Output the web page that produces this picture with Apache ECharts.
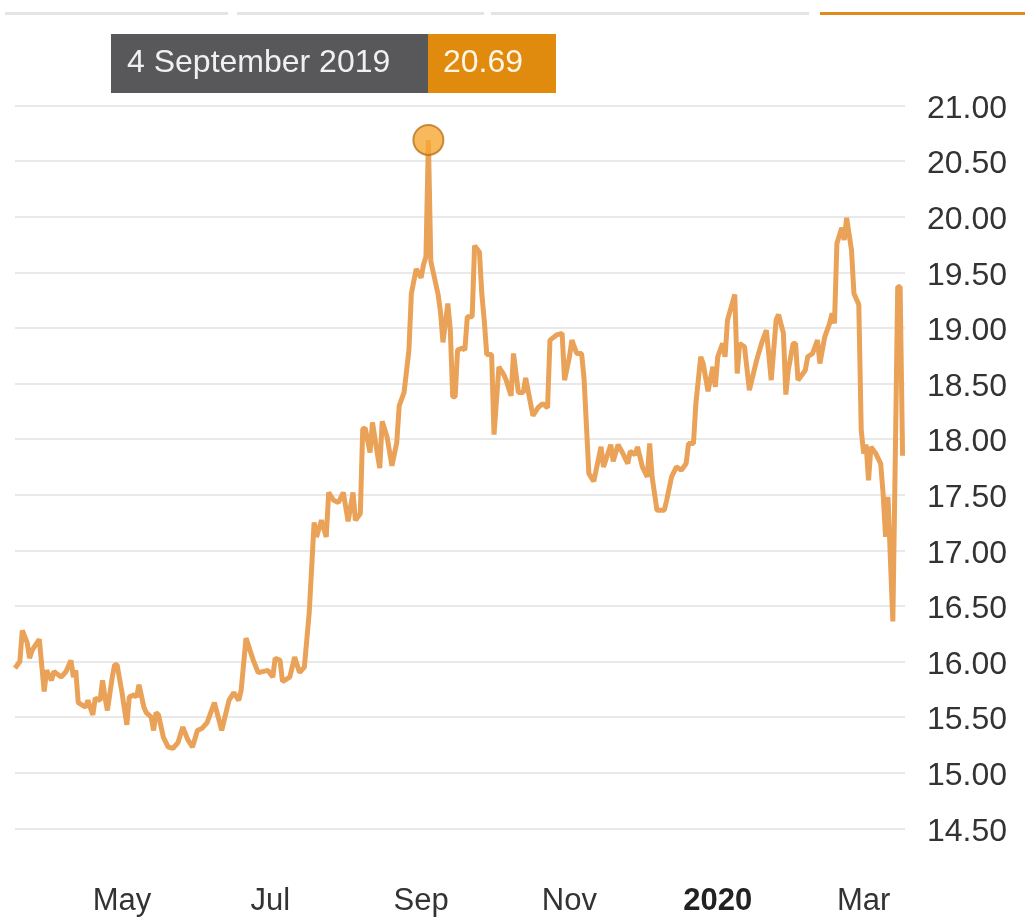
<!DOCTYPE html>
<html>
<head>
<meta charset="utf-8">
<title>Price history</title>
<script src="https://cdn.jsdelivr.net/npm/echarts@6/dist/echarts.min.js"></script>
<style>
  html, body { margin: 0; padding: 0; background: #ffffff; }
  #chart { width: 1025px; height: 917px; }
</style>
</head>
<body>
<div id="chart"></div>
<script>
// Daily closing values, one year of history
const dates = [
  '2019-03-18','2019-03-20','2019-03-21','2019-03-23','2019-03-24','2019-03-25','2019-03-28','2019-03-30','2019-03-31',
  '2019-04-02','2019-04-03','2019-04-06','2019-04-08','2019-04-10','2019-04-11','2019-04-12','2019-04-13','2019-04-16',
  '2019-04-17','2019-04-19','2019-04-20','2019-04-22','2019-04-23','2019-04-24','2019-04-25','2019-04-27','2019-04-28',
  '2019-04-29','2019-05-01','2019-05-03','2019-05-04','2019-05-06','2019-05-07','2019-05-08','2019-05-10','2019-05-11',
  '2019-05-13','2019-05-14','2019-05-15','2019-05-16','2019-05-18','2019-05-20','2019-05-22','2019-05-24','2019-05-26',
  '2019-05-28','2019-05-30','2019-06-01','2019-06-03','2019-06-05','2019-06-08','2019-06-11','2019-06-14','2019-06-16',
  '2019-06-18','2019-06-19','2019-06-21','2019-06-24','2019-06-26','2019-06-30','2019-07-02','2019-07-03','2019-07-05',
  '2019-07-06','2019-07-09','2019-07-11','2019-07-13','2019-07-15','2019-07-17','2019-07-19','2019-07-20','2019-07-22',
  '2019-07-24','2019-07-25','2019-07-27','2019-07-29','2019-07-31','2019-08-02','2019-08-04','2019-08-05','2019-08-07',
  '2019-08-08','2019-08-09','2019-08-11','2019-08-12','2019-08-14','2019-08-15','2019-08-16','2019-08-18','2019-08-20',
  '2019-08-22','2019-08-23','2019-08-25','2019-08-27','2019-08-28','2019-08-30','2019-09-01','2019-09-02','2019-09-03',
  '2019-09-04','2019-09-05','2019-09-08','2019-09-09','2019-09-10','2019-09-12','2019-09-13','2019-09-14','2019-09-15',
  '2019-09-16','2019-09-18','2019-09-19','2019-09-20','2019-09-22','2019-09-23','2019-09-25','2019-09-26','2019-09-27',
  '2019-09-28','2019-09-30','2019-10-01','2019-10-03','2019-10-05','2019-10-06','2019-10-08','2019-10-09','2019-10-11',
  '2019-10-13','2019-10-14','2019-10-17','2019-10-19','2019-10-21','2019-10-23','2019-10-24','2019-10-27','2019-10-29',
  '2019-10-30','2019-11-01','2019-11-02','2019-11-04','2019-11-06','2019-11-07','2019-11-09','2019-11-11','2019-11-14',
  '2019-11-15','2019-11-18','2019-11-19','2019-11-21','2019-11-23','2019-11-25','2019-11-26','2019-11-28','2019-11-29',
  '2019-12-01','2019-12-03','2019-12-04','2019-12-05','2019-12-07','2019-12-10','2019-12-11','2019-12-13','2019-12-15',
  '2019-12-17','2019-12-19','2019-12-20','2019-12-22','2019-12-23','2019-12-25','2019-12-26','2019-12-28','2019-12-30',
  '2019-12-31','2020-01-01','2020-01-03','2020-01-04','2020-01-05','2020-01-08','2020-01-09','2020-01-10','2020-01-12',
  '2020-01-14','2020-01-17','2020-01-19','2020-01-21','2020-01-23','2020-01-25','2020-01-26','2020-01-28','2020-01-29',
  '2020-01-30','2020-02-01','2020-02-02','2020-02-03','2020-02-06','2020-02-07','2020-02-09','2020-02-11','2020-02-12',
  '2020-02-14','2020-02-16','2020-02-17','2020-02-18','2020-02-19','2020-02-21','2020-02-22','2020-02-23','2020-02-25',
  '2020-02-26','2020-02-28','2020-02-29','2020-03-01','2020-03-02','2020-03-03','2020-03-04','2020-03-06','2020-03-08',
  '2020-03-09','2020-03-10','2020-03-11','2020-03-13','2020-03-14','2020-03-15','2020-03-16','2020-03-17'
];

const values = [
  15.94, 16.00, 16.28, 16.17, 16.03, 16.10, 16.20, 15.73, 15.92,
  15.83, 15.91, 15.86, 15.91, 16.01, 15.86, 15.92, 15.63, 15.59,
  15.65, 15.52, 15.67, 15.65, 15.83, 15.68, 15.56, 15.86, 15.97,
  15.97, 15.72, 15.43, 15.68, 15.70, 15.68, 15.79, 15.59, 15.54,
  15.50, 15.38, 15.54, 15.52, 15.32, 15.23, 15.22, 15.27, 15.41,
  15.30, 15.23, 15.38, 15.40, 15.45, 15.63, 15.38, 15.65, 15.72,
  15.65, 15.74, 16.21, 16.01, 15.90, 15.92, 15.86, 16.03, 16.01,
  15.82, 15.86, 16.04, 15.90, 15.95, 16.44, 17.25, 17.12, 17.27,
  17.12, 17.52, 17.45, 17.43, 17.52, 17.26, 17.52, 17.27, 17.33,
  18.09, 18.10, 17.88, 18.15, 17.87, 17.74, 18.16, 18.02, 17.76,
  17.97, 18.30, 18.42, 18.80, 19.31, 19.53, 19.45, 19.57, 19.64,
  20.69, 19.60, 19.30, 19.14, 18.87, 19.22, 18.99, 18.38, 18.38,
  18.80, 18.82, 18.80, 19.10, 19.10, 19.74, 19.68, 19.30, 19.06,
  18.76, 18.76, 18.04, 18.65, 18.58, 18.53, 18.39, 18.77, 18.42,
  18.42, 18.55, 18.21, 18.28, 18.32, 18.28, 18.89, 18.94, 18.95,
  18.53, 18.74, 18.89, 18.77, 18.77, 18.55, 17.69, 17.62, 17.93,
  17.75, 17.95, 17.80, 17.95, 17.87, 17.78, 17.89, 17.86, 17.93,
  17.75, 17.66, 17.96, 17.66, 17.36, 17.36, 17.45, 17.66, 17.75,
  17.72, 17.78, 17.96, 17.96, 18.32, 18.74, 18.68, 18.43, 18.65,
  18.47, 18.74, 18.86, 18.74, 19.07, 19.30, 18.59, 18.86, 18.83,
  18.44, 18.71, 18.86, 18.98, 18.53, 19.07, 19.12, 18.95, 18.40,
  18.62, 18.86, 18.86, 18.53, 18.62, 18.74, 18.77, 18.89, 18.68,
  18.92, 19.04, 19.13, 19.04, 19.76, 19.90, 19.79, 19.99, 19.70,
  19.31, 19.21, 18.08, 17.87, 17.95, 17.63, 17.93, 17.87, 17.78,
  17.51, 17.12, 17.48, 16.36, 17.82, 19.37, 19.37, 17.85
];

// Axis ticks
const xTickDates = ['2019-05-01', '2019-07-01', '2019-09-01', '2019-11-01', '2020-01-01', '2020-03-01'];
const xTickLabels = ['May', 'Jul', 'Sep', 'Nov', '2020', 'Mar'];
const xRange = ['2019-03-18', '2020-03-18'];
const yMin = 14.5;
const yMax = 21;
const yStep = 0.5;

// Highlighted day shown in the header box
const highlightDate = '2019-09-04';

const MONTHS = ['January', 'February', 'March', 'April', 'May', 'June', 'July',
                'August', 'September', 'October', 'November', 'December'];
const FONT = '"Liberation Sans", Arial, Helvetica, sans-serif';

function toTime(s) {
  const p = s.split('-').map(Number);
  return new Date(p[0], p[1] - 1, p[2]).getTime();
}

const seriesData = dates.map((d, i) => [toTime(d), values[i]]);
const xTickTimes = xTickDates.map(toTime);
const hiIndex = dates.indexOf(highlightDate);
const hiValue = values[hiIndex];
const hiTime = toTime(highlightDate);
const hiParts = highlightDate.split('-').map(Number);
const hiText = hiParts[2] + ' ' + MONTHS[hiParts[1] - 1] + ' ' + hiParts[0];

const chart = echarts.init(document.getElementById('chart'), null, { renderer: 'canvas' });

const option = {
  animation: false,
  backgroundColor: '#ffffff',
  grid: {
    left: 15,
    right: 120,
    top: 105.5,
    bottom: 88.7,
    containLabel: false,
    outerBoundsMode: 'none'
  },
  xAxis: {
    // linear time scale (milliseconds), labelled at month starts
    type: 'value',
    min: toTime(xRange[0]),
    max: toTime(xRange[1]),
    axisLine: { show: false },
    axisTick: { show: false },
    splitLine: { show: false },
    axisLabel: {
      customValues: xTickTimes,
      margin: 58,
      fontSize: 31,
      fontFamily: FONT,
      color: '#333333',
      formatter: function (val) {
        let i = xTickTimes.indexOf(val);
        if (i < 0) {
          i = xTickTimes.findIndex(t => Math.abs(t - val) < 43200000);
        }
        const label = i >= 0 ? xTickLabels[i] : '';
        return /^\d{4}$/.test(label) ? '{yr|' + label + '}' : label;
      },
      rich: {
        yr: { fontSize: 31, fontWeight: 'bold', fontFamily: FONT, color: '#222222' }
      }
    }
  },
  yAxis: {
    type: 'value',
    position: 'right',
    min: yMin,
    max: yMax,
    interval: yStep,
    axisLine: { show: false },
    axisTick: { show: false },
    splitLine: { show: true, lineStyle: { color: '#e9e9e9', width: 2 } },
    axisLabel: {
      margin: 22,
      fontSize: 32,
      fontFamily: FONT,
      color: '#333333',
      verticalAlign: 'top',
      lineHeight: 7,
      formatter: v => v.toFixed(2)
    }
  },
  series: [
    {
      type: 'line',
      data: seriesData,
      showSymbol: false,
      lineStyle: { color: '#e9a257', width: 5 },
      z: 2
    },
    {
      type: 'scatter',
      data: [[hiTime, hiValue]],
      symbol: 'circle',
      symbolSize: 30,
      itemStyle: { color: '#f6a833', borderColor: '#b9741c', borderWidth: 2 },
      z: 3
    }
  ]
};

chart.setOption(option);

// Header box: date on dark grey, value on orange, split at the highlighted day
const px = chart.convertToPixel({ seriesIndex: 0 }, [hiTime, hiValue]);
const splitX = Math.round(px[0]);
const boxTop = 34, boxH = 59;
const darkW = 317, orangeW = 128;

chart.setOption({
  graphic: [
    // range selector strips at the top
    { type: 'rect', shape: { x: 5, y: 12, width: 223, height: 3 }, style: { fill: '#e4e4e4' } },
    { type: 'rect', shape: { x: 237, y: 12, width: 247, height: 3 }, style: { fill: '#e4e4e4' } },
    { type: 'rect', shape: { x: 491, y: 12, width: 318, height: 3 }, style: { fill: '#e4e4e4' } },
    { type: 'rect', shape: { x: 820, y: 12, width: 205, height: 3 }, style: { fill: '#e08a1e' } },
    // value readout
    { type: 'rect', shape: { x: splitX - darkW, y: boxTop, width: darkW, height: boxH }, style: { fill: '#58585a' } },
    { type: 'rect', shape: { x: splitX, y: boxTop, width: orangeW, height: boxH }, style: { fill: '#e08b0d' } },
    {
      type: 'text', x: splitX - darkW + 16, y: boxTop + boxH / 2,
      style: { text: hiText, fill: '#f0f0f0', fontSize: 32, fontFamily: FONT, verticalAlign: 'middle', align: 'left' }
    },
    {
      type: 'text', x: splitX + 15, y: boxTop + boxH / 2,
      style: { text: hiValue.toFixed(2), fill: '#fff6e8', fontSize: 32, fontFamily: FONT, verticalAlign: 'middle', align: 'left' }
    }
  ]
});
</script>
</body>
</html>
